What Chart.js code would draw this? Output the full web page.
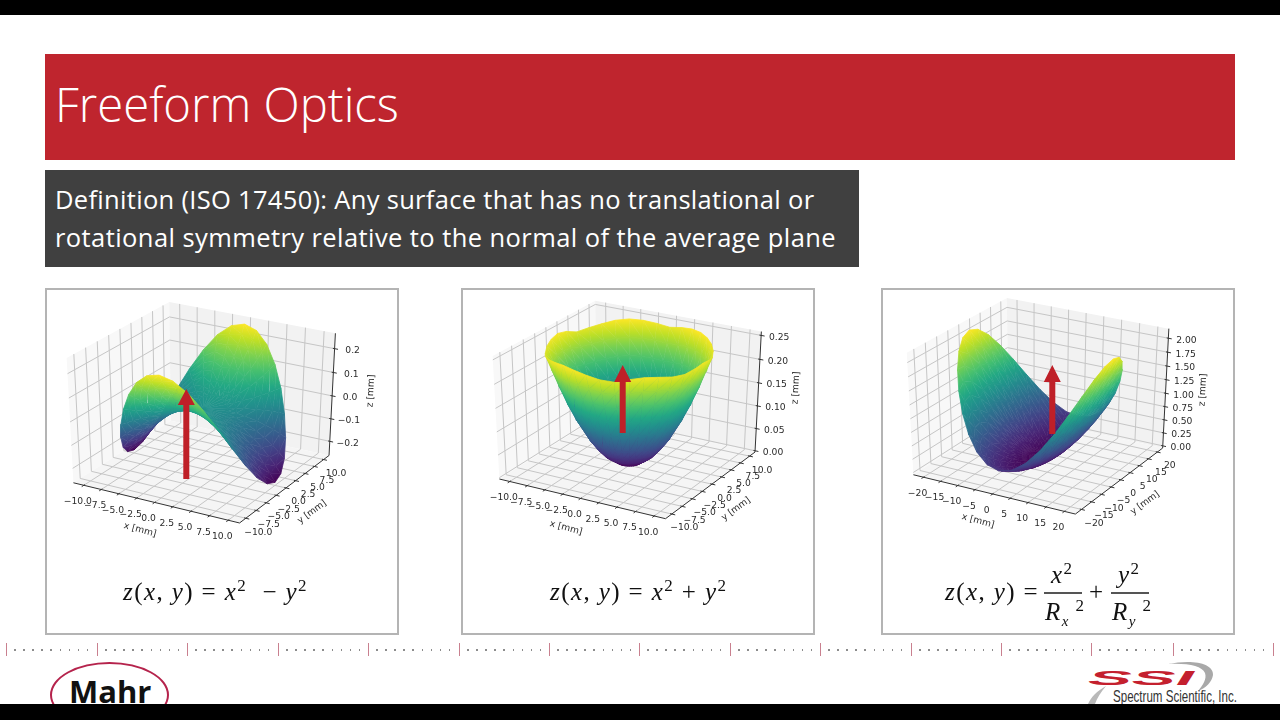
<!DOCTYPE html>
<html>
<head>
<meta charset="utf-8">
<title>Freeform Optics</title>
<script src="https://cdn.jsdelivr.net/npm/chart.js@4"></script>
<style>
    html, body { margin: 0; padding: 0; background: #fff; }
    #page { position: relative; width: 1280px; height: 720px; overflow: hidden; background: #fff; font-family: "Open Sans", sans-serif; }
    .bar { position: absolute; left: 0; width: 1280px; background: #000; z-index: 5; }
    #title { position: absolute; left: 45px; top: 54px; width: 1189.5px; height: 106px; background: #bf252e; color: #fff; font-size: 47.3px; font-weight: 300; line-height: 100px; text-indent: 10px; }
    #definition { position: absolute; left: 45px; top: 170px; width: 813.5px; height: 97px; background: #404040; color: #fff; font-size: 25.5px; letter-spacing: 0.42px; line-height: 38px; padding: 10px 0 0 10px; box-sizing: border-box; white-space: nowrap; }
    .panel { position: absolute; top: 288px; width: 354px; height: 347px; box-sizing: border-box; border: 2px solid #b4b4b4; }
    canvas.plot { position: absolute; top: 288px; }
    .eq { position: absolute; font-family: "Liberation Serif", serif; font-size: 25px; letter-spacing: 1.4px; color: #111; white-space: nowrap; line-height: 30px; }
    .eq i { font-style: italic; }
    .eq sup { font-size: 17px; line-height: 0; }
    .eq sub { font-size: 15px; line-height: 0; }
    .rule { position: absolute; width: 1px; top: 643px; height: 13px; background: #c9808f; }
    .dot { position: absolute; width: 1.5px; height: 1.5px; top: 649px; background: #8c8c8c; }
    .fracline { position: absolute; height: 1.5px; background: #555; top: 592px; }
    #mahr-ring { position: absolute; left: 50px; top: 662px; width: 119px; height: 66px; box-sizing: border-box; border: 2px solid #b5234c; border-radius: 50%; }
    #mahr { position: absolute; left: 69px; top: 669px; font-family: "Open Sans", sans-serif; font-weight: 700; font-size: 31px; line-height: 44px; color: #111; }
</style>
</head>
<body>
<div id="page">
    <div class="bar" style="top:0;height:15px"></div>
    <div class="bar" style="top:704px;height:16px"></div>
    <div id="title">Freeform Optics</div>
    <div id="definition"><span style="letter-spacing:0.31px">Definition (ISO 17450): Any surface that has no translational or</span><br>rotational symmetry relative to the normal of the average plane</div>

    <div class="panel" style="left:45px"></div>
    <div class="panel" style="left:461px"></div>
    <div class="panel" style="left:881px"></div>
    <canvas class="plot" id="plot1" width="354" height="346" style="left:45px"></canvas>
    <canvas class="plot" id="plot2" width="354" height="346" style="left:461px"></canvas>
    <canvas class="plot" id="plot3" width="354" height="346" style="left:881px"></canvas>

    <div class="eq" style="left:123px;top:577px"><i>z</i>(<i>x</i>, <i>y</i>) = <i>x</i><sup>2</sup> &nbsp;&minus; <i>y</i><sup>2</sup></div>
    <div class="eq" style="left:550px;top:577px"><i>z</i>(<i>x</i>, <i>y</i>) = <i>x</i><sup>2</sup> + <i>y</i><sup>2</sup></div>
    <div class="eq" style="left:945px;top:577px"><i>z</i>(<i>x</i>, <i>y</i>) =</div>
    <div class="eq" style="left:1051px;top:560px"><i>x</i><sup>2</sup></div>
    <div class="fracline" style="left:1044px;width:38px"></div>
    <div class="eq" style="left:1045px;top:597px"><i>R</i><sub><i>x</i></sub><sup>&nbsp;2</sup></div>
    <div class="eq" style="left:1089px;top:577px">+</div>
    <div class="eq" style="left:1118px;top:560px"><i>y</i><sup>2</sup></div>
    <div class="fracline" style="left:1111px;width:38px"></div>
    <div class="eq" style="left:1112px;top:597px"><i>R</i><sub><i>y</i></sub><sup>&nbsp;2</sup></div>

    <div id="ruler"></div>
    <div id="mahr-ring"></div>
    <div id="mahr">Mahr</div>
    <svg style="position:absolute;left:1080px;top:655px" width="200" height="50">
        <path d="M88 9 C112 4 134 8 133 20 C132 27 126 33 118 36 C123 30 127 24 125 18 C122 11 108 8 88 9 Z" fill="#a9a9a9"/>
        <path d="M8 49 C11 42 17 36 26 31 C21 37 17 43 15 49 Z" fill="#b9b9b9"/>
        <text x="8" y="30" font-family="Liberation Sans" font-weight="700" font-style="italic" font-size="21" fill="#c4202e" textLength="106" lengthAdjust="spacingAndGlyphs">SSI</text>
        <text x="33" y="47" font-family="Liberation Sans" font-size="17" fill="#333" textLength="124" lengthAdjust="spacingAndGlyphs">Spectrum Scientific, Inc.</text>
    </svg>
</div>

<script>
// tick labels
const xTicks1 = [-10, -7.5, -5, -2.5, 0, 2.5, 5, 7.5, 10];
const yTicks1 = [-10, -7.5, -5, -2.5, 0, 2.5, 5, 7.5, 10];
const zTicks1 = [-0.2, -0.1, 0, 0.1, 0.2];
const xTicks2 = [-10, -7.5, -5, -2.5, 0, 2.5, 5, 7.5, 10];
const yTicks2 = [-10, -7.5, -5, -2.5, 0, 2.5, 5, 7.5, 10];
const zTicks2 = [0, 0.05, 0.1, 0.15, 0.2, 0.25];
const xTicks3 = [-20, -15, -10, -5, 0, 5, 10, 15, 20];
const yTicks3 = [-20, -15, -10, -5, 0, 5, 10, 15, 20];
const zTicks3 = [0, 0.25, 0.5, 0.75, 1, 1.25, 1.5, 1.75, 2];

const spokes = [0, 10, 20, 30, 40, 50, 60, 70, 80, 90, 100, 110, 120, 130, 140, 150, 160, 170, 180, 190, 200, 210, 220, 230, 240, 250, 260, 270, 280, 290, 300, 310, 320, 330, 340, 350];
const rings1 = [0, 3, 4, 5, 6.5, 7.5, 8.5, 9.3, 10];
const rings2 = [0, 1.48, 2.96, 3.94, 4.93, 6.4, 7.39, 8.37, 9.16, 9.85];
const rings3 = [0, 3, 6, 8, 10, 13, 15, 17, 18.6, 20];

const surface1 = [
    [0, 0, 0, 0, 0, 0, 0, 0, 0, 0, 0, 0, 0, 0, 0, 0, 0, 0, 0, 0, 0, 0, 0, 0, 0, 0, 0, 0, 0, 0, 0, 0, 0, 0, 0, 0],
    [-.023, -.021, -.017, -.011, -.004, .004, .011, .017, .021, .023, .021, .017, .011, .004, -.004, -.011, -.017, -.021, -.023, -.021, -.017, -.011, -.004, .004, .011, .017, .021, .023, .021, .017, .011, .004, -.004, -.011, -.017, -.021],
    [-.040, -.038, -.031, -.020, -.007, .007, .020, .031, .038, .040, .038, .031, .020, .007, -.007, -.020, -.031, -.038, -.040, -.038, -.031, -.020, -.007, .007, .020, .031, .038, .040, .038, .031, .020, .007, -.007, -.020, -.031, -.038],
    [-.063, -.059, -.048, -.031, -.011, .011, .031, .048, .059, .063, .059, .048, .031, .011, -.011, -.031, -.048, -.059, -.063, -.059, -.048, -.031, -.011, .011, .031, .048, .059, .063, .059, .048, .031, .011, -.011, -.031, -.048, -.059],
    [-.106, -.099, -.081, -.053, -.018, .018, .053, .081, .099, .106, .099, .081, .053, .018, -.018, -.053, -.081, -.099, -.106, -.099, -.081, -.053, -.018, .018, .053, .081, .099, .106, .099, .081, .053, .018, -.018, -.053, -.081, -.099],
    [-.141, -.132, -.108, -.070, -.024, .024, .070, .108, .132, .141, .132, .108, .070, .024, -.024, -.070, -.108, -.132, -.141, -.132, -.108, -.070, -.024, .024, .070, .108, .132, .141, .132, .108, .070, .024, -.024, -.070, -.108, -.132],
    [-.181, -.170, -.138, -.090, -.031, .031, .090, .138, .170, .181, .170, .138, .090, .031, -.031, -.090, -.138, -.170, -.181, -.170, -.138, -.090, -.031, .031, .090, .138, .170, .181, .170, .138, .090, .031, -.031, -.090, -.138, -.170],
    [-.216, -.203, -.166, -.108, -.038, .038, .108, .166, .203, .216, .203, .166, .108, .038, -.038, -.108, -.166, -.203, -.216, -.203, -.166, -.108, -.038, .038, .108, .166, .203, .216, .203, .166, .108, .038, -.038, -.108, -.166, -.203],
    [-.250, -.235, -.192, -.125, -.044, .044, .125, .192, .235, .250, .235, .192, .125, .044, -.044, -.125, -.192, -.235, -.250, -.235, -.192, -.125, -.044, .044, .125, .192, .235, .250, .235, .192, .125, .044, -.044, -.125, -.192, -.235]
];

const surface2 = [
    [0, 0, 0, 0, 0, 0, 0, 0, 0, 0, 0, 0, 0, 0, 0, 0, 0, 0, 0, 0, 0, 0, 0, 0, 0, 0, 0, 0, 0, 0, 0, 0, 0, 0, 0, 0],
    [.006, .006, .006, .006, .006, .006, .006, .006, .006, .006, .006, .006, .006, .006, .006, .006, .006, .006, .006, .006, .006, .006, .006, .006, .006, .006, .006, .006, .006, .006, .006, .006, .006, .006, .006, .006],
    [.023, .022, .022, .022, .023, .023, .023, .023, .023, .022, .023, .023, .023, .023, .022, .022, .022, .023, .023, .023, .022, .022, .022, .022, .023, .023, .023, .023, .022, .022, .022, .023, .023, .022, .022, .023],
    [.040, .040, .039, .040, .040, .040, .041, .040, .040, .039, .040, .040, .041, .040, .040, .039, .039, .040, .040, .040, .040, .039, .039, .040, .040, .041, .040, .040, .040, .039, .040, .040, .040, .040, .039, .040],
    [.063, .062, .061, .062, .063, .063, .064, .063, .063, .062, .063, .063, .064, .063, .062, .061, .061, .063, .063, .063, .062, .061, .062, .062, .063, .064, .063, .063, .062, .061, .062, .063, .063, .062, .062, .063],
    [.106, .105, .104, .105, .106, .107, .107, .107, .106, .104, .106, .107, .107, .107, .105, .104, .103, .106, .107, .106, .105, .103, .104, .105, .106, .107, .107, .106, .104, .103, .105, .106, .106, .105, .104, .106],
    [.141, .139, .138, .139, .141, .142, .143, .142, .141, .139, .140, .142, .143, .142, .140, .138, .137, .141, .142, .141, .139, .137, .138, .140, .141, .143, .142, .141, .139, .137, .140, .141, .141, .139, .139, .140],
    [.180, .179, .176, .178, .180, .182, .183, .182, .180, .178, .180, .182, .183, .182, .179, .177, .175, .180, .182, .180, .178, .175, .177, .179, .181, .183, .182, .180, .177, .175, .179, .181, .180, .178, .178, .180],
    [.215, .213, .211, .212, .214, .216, .217, .217, .214, .212, .214, .216, .217, .216, .213, .211, .210, .214, .216, .215, .212, .210, .211, .213, .215, .217, .216, .214, .211, .210, .213, .215, .214, .212, .212, .214],
    [.248, .244, .240, .243, .247, .250, .252, .251, .247, .242, .246, .250, .252, .250, .245, .241, .238, .246, .250, .247, .243, .238, .241, .245, .249, .252, .250, .246, .241, .239, .245, .248, .246, .242, .241, .245]
];

const surface3 = [
    [0, 0, 0, 0, 0, 0, 0, 0, 0, 0, 0, 0, 0, 0, 0, 0, 0, 0, 0, 0, 0, 0, 0, 0, 0, 0, 0, 0, 0, 0, 0, 0, 0, 0, 0, 0],
    [.047, .046, .043, .037, .031, .024, .017, .012, .008, .007, .008, .012, .017, .024, .031, .037, .043, .046, .047, .046, .043, .037, .031, .024, .017, .012, .008, .007, .008, .012, .017, .024, .031, .037, .043, .046],
    [.189, .185, .171, .149, .123, .095, .068, .047, .033, .028, .033, .047, .068, .095, .123, .149, .171, .185, .189, .185, .171, .149, .123, .095, .068, .047, .033, .028, .033, .047, .068, .095, .123, .149, .171, .185],
    [.337, .328, .303, .265, .218, .168, .121, .083, .058, .049, .058, .083, .121, .168, .218, .265, .303, .328, .337, .328, .303, .265, .218, .168, .121, .083, .058, .049, .058, .083, .121, .168, .218, .265, .303, .328],
    [.526, .513, .474, .414, .341, .263, .189, .130, .091, .077, .091, .130, .189, .263, .341, .414, .474, .513, .526, .513, .474, .414, .341, .263, .189, .130, .091, .077, .091, .130, .189, .263, .341, .414, .474, .513],
    [.889, .867, .801, .700, .576, .444, .320, .219, .153, .130, .153, .219, .320, .444, .576, .700, .801, .867, .889, .867, .801, .700, .576, .444, .320, .219, .153, .130, .153, .219, .320, .444, .576, .700, .801, .867],
    [1.184, 1.154, 1.066, .932, .767, .591, .426, .291, .204, .173, .204, .291, .426, .591, .767, .932, 1.066, 1.154, 1.184, 1.154, 1.066, .932, .767, .591, .426, .291, .204, .173, .204, .291, .426, .591, .767, .932, 1.066, 1.154],
    [1.521, 1.482, 1.369, 1.196, .985, .759, .547, .374, .262, .223, .262, .374, .547, .759, .985, 1.196, 1.369, 1.482, 1.521, 1.482, 1.369, 1.196, .985, .759, .547, .374, .262, .223, .262, .374, .547, .759, .985, 1.196, 1.369, 1.482],
    [1.821, 1.774, 1.639, 1.432, 1.179, .908, .655, .448, .313, .266, .313, .448, .655, .908, 1.179, 1.432, 1.639, 1.774, 1.821, 1.774, 1.639, 1.432, 1.179, .908, .655, .448, .313, .266, .313, .448, .655, .908, 1.179, 1.432, 1.639, 1.774],
    [2.105, 2.051, 1.895, 1.656, 1.363, 1.050, .757, .518, .362, .308, .362, .518, .757, 1.050, 1.363, 1.656, 1.895, 2.051, 2.105, 2.051, 1.895, 1.656, 1.363, 1.050, .757, .518, .362, .308, .362, .518, .757, 1.050, 1.363, 1.656, 1.895, 2.051]
];

const viridis = ['#440154', '#482475', '#414487', '#355f8d', '#2a788e', '#21918c', '#22a884', '#44bf70', '#7ad151', '#bddf26', '#fde725'];

var panels = [
    {
        id: 'plot1', rings: rings1, surface: surface1, xTicks: xTicks1, yTicks: yTicks1, zTicks: zTicks1, decimals: 1,
        lim: { x: [-11.5, 11.5], y: [-11.5, 11.5], z: [-0.2636, 0.2636] },
        plane: { x: [-0.0825, 0.1021], y: [-0.1581, 0.0847] },
        xLabel: [95, 242, 15], yLabel: [267, 224, -36], zLabel: [326, 103, -87],
        arrow: { x: 141.3, tip: 101, neck: 117, tail: 191 }
    },
    {
        id: 'plot2', rings: rings2, surface: surface2, xTicks: xTicks2, yTicks: yTicks2, zTicks: zTicks2, decimals: 2,
        lim: { x: [-11.5, 11.5], y: [-11.5, 11.5], z: [-0.003, 0.258] },
        plane: { x: [-0.0877, 0.0969], y: [-0.1622, 0.0839] },
        xLabel: [105, 240, 15], yLabel: [275, 221, -36], zLabel: [335, 100, -87],
        arrow: { x: 161.7, tip: 77, neck: 94, tail: 145 }
    },
    {
        id: 'plot3', rings: rings3, surface: surface3, xTicks: xTicks3, yTicks: yTicks3, zTicks: zTicks3, decimals: 2,
        lim: { x: [-23, 23], y: [-23, 23], z: [-0.043, 2.17] },
        plane: { x: [-0.0850, 0.1043], y: [-0.1663, 0.0821] },
        xLabel: [97, 233, 15], yLabel: [264, 215, -36], zLabel: [322, 102, -87],
        arrow: { x: 171.3, tip: 77, neck: 94, tail: 146 }
    }
];

// matplotlib default view, elev 30 azim -60, dist 10
function project(panel, x, y, z) {
    var l = panel.lim;
    var nx = (x - l.x[0]) / (l.x[1] - l.x[0]) - 0.5;
    var ny = (y - l.y[0]) / (l.y[1] - l.y[0]) - 0.5;
    var nz = (z - l.z[0]) / (l.z[1] - l.z[0]) - 0.5;
    var u = 0.866 * nx + 0.5 * ny;
    var v = -0.25 * nx + 0.433 * ny + 0.866 * nz;
    var w = 0.433 * nx - 0.75 * ny + 0.5 * nz;
    return { x: u / (10 - w), y: v / (10 - w), w: w };
}

function hexToRgb(hex) {
    return [parseInt(hex.substr(1, 2), 16), parseInt(hex.substr(3, 2), 16), parseInt(hex.substr(5, 2), 16)];
}

function viridisAt(t) {
    t = Math.max(0, Math.min(1, t)) * (viridis.length - 1);
    var i = Math.min(Math.floor(t), viridis.length - 2);
    var a = hexToRgb(viridis[i]), b = hexToRgb(viridis[i + 1]), f = t - i;
    return 'rgb(' + Math.round(a[0] + (b[0] - a[0]) * f) + ',' + Math.round(a[1] + (b[1] - a[1]) * f) + ',' + Math.round(a[2] + (b[2] - a[2]) * f) + ')';
}

// fill for one triangle: z is a plane in pixel space so a linear gradient fits it exactly
function triPaint(chart, pts, zs, zMin, zMax) {
    var px = [], py = [], i;
    for (i = 0; i < 3; i++) {
        px[i] = chart.scales.x.getPixelForValue(pts[i].x);
        py[i] = chart.scales.y.getPixelForValue(pts[i].y);
    }
    var flat = viridisAt(((zs[0] + zs[1] + zs[2]) / 3 - zMin) / (zMax - zMin));
    // scales have no size yet on the very first pass
    if (!isFinite(px[0] + px[1] + px[2]) || !isFinite(py[0] + py[1] + py[2])) {
        return flat;
    }
    var det = (px[1] - px[0]) * (py[2] - py[0]) - (px[2] - px[0]) * (py[1] - py[0]);
    var lo = Math.min(zs[0], zs[1], zs[2]), hi = Math.max(zs[0], zs[1], zs[2]);
    if (Math.abs(det) < 1e-6 || hi - lo < 1e-6) {
        return flat;
    }
    var a = ((zs[1] - zs[0]) * (py[2] - py[0]) - (zs[2] - zs[0]) * (py[1] - py[0])) / det;
    var b = ((zs[2] - zs[0]) * (px[1] - px[0]) - (zs[1] - zs[0]) * (px[2] - px[0])) / det;
    var n = a * a + b * b;
    var g = chart.ctx.createLinearGradient(
        px[0] + (lo - zs[0]) * a / n, py[0] + (lo - zs[0]) * b / n,
        px[0] + (hi - zs[0]) * a / n, py[0] + (hi - zs[0]) * b / n);
    for (i = 0; i <= 4; i++) {
        g.addColorStop(i / 4, viridisAt((lo + (hi - lo) * i / 4 - zMin) / (zMax - zMin)));
    }
    return g;
}

function lineSet(points, color, width) {
    return { data: points, showLine: true, fill: false, borderColor: color, borderWidth: width, pointRadius: 0, tension: 0 };
}

function areaSet(points, color) {
    return { data: points, showLine: true, fill: 'shape', backgroundColor: color, borderWidth: 0, pointRadius: 0, tension: 0 };
}

function buildDatasets(panel) {
    var P = function (x, y, z) { return project(panel, x, y, z); };
    var x0 = panel.lim.x[0], x1 = panel.lim.x[1], y0 = panel.lim.y[0], y1 = panel.lim.y[1], z0 = panel.lim.z[0], z1 = panel.lim.z[1];
    var sets = [];

    // panes
    sets.push(areaSet([P(x0, y0, z0), P(x0, y1, z0), P(x0, y1, z1), P(x0, y0, z1)], '#f8f8f8'));
    sets.push(areaSet([P(x0, y1, z0), P(x1, y1, z0), P(x1, y1, z1), P(x0, y1, z1)], '#f2f2f2'));
    sets.push(areaSet([P(x0, y0, z0), P(x1, y0, z0), P(x1, y1, z0), P(x0, y1, z0)], '#f5f5f5'));

    // grid
    panel.xTicks.forEach(function (t) {
        sets.push(lineSet([P(t, y0, z0), P(t, y1, z0), P(t, y1, z1)], '#c6c6c6', 1));
    });
    panel.yTicks.forEach(function (t) {
        sets.push(lineSet([P(x1, t, z0), P(x0, t, z0), P(x0, t, z1)], '#c6c6c6', 1));
    });
    panel.zTicks.forEach(function (t) {
        sets.push(lineSet([P(x1, y1, t), P(x0, y1, t), P(x0, y0, t)], '#c6c6c6', 1));
    });

    // axis lines and tick marks
    sets.push(lineSet([P(x0, y0, z0), P(x1, y0, z0), P(x1, y1, z0), P(x1, y1, z1)], '#333', 1));
    var dy = (y1 - y0) * 0.02, dx = (x1 - x0) * 0.02;
    panel.xTicks.forEach(function (t) {
        sets.push(lineSet([P(t, y0 - dy, z0), P(t, y0 + dy / 2, z0)], '#333', 1));
    });
    panel.yTicks.forEach(function (t) {
        sets.push(lineSet([P(x1 + dx, t, z0), P(x1 - dx / 2, t, z0)], '#333', 1));
    });
    panel.zTicks.forEach(function (t) {
        sets.push(lineSet([P(x1 + dx, y1, t), P(x1 - dx / 2, y1, t)], '#333', 1));
    });

    // surface triangles, far ones first
    var all = [].concat.apply([], panel.surface);
    var zMin = Math.min.apply(null, all), zMax = Math.max.apply(null, all);
    var tris = [];
    var corner = function (r, s) {
        var a = spokes[s] * Math.PI / 180;
        return P(panel.rings[r] * Math.cos(a), panel.rings[r] * Math.sin(a), panel.surface[r][s]);
    };
    var addTri = function (c) {
        var pts = c.map(function (k) { return corner(k[0], k[1]); });
        var zs = c.map(function (k) { return panel.surface[k[0]][k[1]]; });
        tris.push({ pts: pts, zs: zs, depth: (pts[0].w + pts[1].w + pts[2].w) / 3 });
    };
    for (var r = 0; r < panel.rings.length - 1; r++) {
        for (var s = 0; s < spokes.length; s++) {
            var s2 = (s + 1) % spokes.length;
            addTri([[r, s], [r + 1, s2], [r + 1, s]]);
            if (r > 0) {
                addTri([[r, s], [r, s2], [r + 1, s2]]);
            }
        }
    }
    tris.sort(function (a, b) { return a.depth - b.depth; });
    tris.forEach(function (t) {
        var paint = function (ctx) { return triPaint(ctx.chart, t.pts, t.zs, zMin, zMax); };
        sets.push({ data: t.pts, showLine: true, fill: 'shape', backgroundColor: paint, borderColor: paint, borderWidth: 0.8, pointRadius: 0, tension: 0 });
    });

    // chart.js paints dataset 0 last
    return sets.reverse();
}

function drawText(ctx, text, x, y, rot) {
    ctx.save();
    ctx.translate(x, y);
    if (rot) ctx.rotate(rot * Math.PI / 180);
    ctx.fillText(text, 0, 0);
    ctx.restore();
}

var slideParts = {
    id: 'slideParts',
    afterDatasetsDraw: function (chart, args, opts) {
        var panel = opts.panel, ctx = chart.ctx;
        var sx = chart.scales.x, sy = chart.scales.y;
        var l = panel.lim;
        var at = function (p) { return [sx.getPixelForValue(p.x), sy.getPixelForValue(p.y)]; };
        var fmt = function (v, d) { return v.toFixed(d).replace('-', '\u2212'); };

        ctx.save();
        ctx.font = '9.2px "DejaVu Sans"';
        ctx.fillStyle = '#2b2b2b';
        ctx.textAlign = 'center';
        ctx.textBaseline = 'middle';
        var xyDec = panel.xTicks[1] - panel.xTicks[0] === 5 ? 0 : 1;
        panel.xTicks.forEach(function (t) {
            var p = at(project(panel, t, l.y[0], l.z[0]));
            drawText(ctx, fmt(t, xyDec), p[0] - 6, p[1] + 16.5);
        });
        panel.yTicks.forEach(function (t) {
            var p = at(project(panel, l.x[1], t, l.z[0]));
            drawText(ctx, fmt(t, xyDec), p[0] + 12.5, p[1] + 14);
        });
        panel.zTicks.forEach(function (t) {
            var p = at(project(panel, l.x[1], l.y[1], t));
            drawText(ctx, fmt(t, panel.decimals), p[0] + 18, p[1] + 2);
        });
        drawText(ctx, 'x [mm]', panel.xLabel[0], panel.xLabel[1], panel.xLabel[2]);
        drawText(ctx, 'y [mm]', panel.yLabel[0], panel.yLabel[1], panel.yLabel[2]);
        drawText(ctx, 'z [mm]', panel.zLabel[0], panel.zLabel[1], panel.zLabel[2]);

        // red normal arrow of the slide
        var a = panel.arrow;
        ctx.fillStyle = '#bf2028';
        ctx.beginPath();
        ctx.moveTo(a.x, a.tip);
        ctx.lineTo(a.x + 8.5, a.neck);
        ctx.lineTo(a.x + 3, a.neck);
        ctx.lineTo(a.x + 3, a.tail);
        ctx.lineTo(a.x - 3, a.tail);
        ctx.lineTo(a.x - 3, a.neck);
        ctx.lineTo(a.x - 8.5, a.neck);
        ctx.closePath();
        ctx.fill();
        ctx.restore();
    }
};

panels.forEach(function (panel) {
    new Chart(document.getElementById(panel.id), {
        type: 'scatter',
        data: { datasets: buildDatasets(panel) },
        plugins: [slideParts],
        options: {
            responsive: false,
            animation: false,
            events: [],
            layout: { padding: 0 },
            scales: {
                x: { type: 'linear', display: false, min: panel.plane.x[0], max: panel.plane.x[1] },
                y: { type: 'linear', display: false, min: panel.plane.y[0], max: panel.plane.y[1] }
            },
            datasets: { scatter: { clip: false } },
            plugins: {
                legend: { display: false },
                tooltip: { enabled: false },
                slideParts: { panel: panel }
            }
        }
    });
});

// footer ruler
var ruler = document.getElementById('ruler');
const rulerStops = [6, 97, 187, 278, 368, 459, 549, 639, 730, 820, 911, 1001, 1091, 1173, 1273];
rulerStops.forEach(function (pos, i) {
    var mark = document.createElement('div');
    mark.className = 'rule';
    mark.style.left = pos + 'px';
    ruler.appendChild(mark);
    if (i < rulerStops.length - 1) {
        var next = rulerStops[i + 1];
        for (var d = pos + 8; d < next - 3; d += 9.1) {
            var dot = document.createElement('div');
            dot.className = 'dot';
            dot.style.left = d + 'px';
            ruler.appendChild(dot);
        }
    }
});
</script>
</body>
</html>
